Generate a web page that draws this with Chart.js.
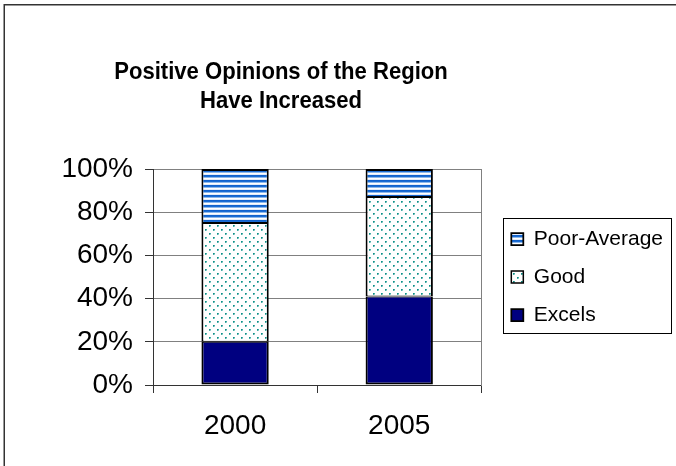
<!DOCTYPE html>
<html>
<head>
<meta charset="utf-8">
<script src="https://cdn.jsdelivr.net/npm/chart.js@4.4.1/dist/chart.umd.min.js"></script>
<style>
  body { margin: 0; background: #fff; }
  #wrap { width: 676px; height: 466px; }
</style>
</head>
<body>
<div id="wrap"><canvas id="canvas" width="676" height="466"></canvas></div>
<script>
var years = ['2000', '2005'];
var excels = [20, 41];
var good = [55, 46];
var poorAverage = [25, 13];
var yTicks = [0, 20, 40, 60, 80, 100];
var titleLines = ['Positive Opinions of the Region', 'Have Increased'];

// horizontal blue stripes
function stripePattern(ctx) {
    var c = document.createElement('canvas');
    c.width = 4; c.height = 5;
    var p = c.getContext('2d');
    var rows = ['#1262cc', '#1a6cd3', '#8db8ec', '#ffffff', '#e2ecfa'];
    for (var i = 0; i < rows.length; i++) {
        p.fillStyle = rows[i];
        p.fillRect(0, i, 4, 1);
    }
    return ctx.createPattern(c, 'repeat');
}

// teal dots on white
function dotPattern(ctx) {
    var c = document.createElement('canvas');
    c.width = 8; c.height = 8;
    var p = c.getContext('2d');
    p.fillStyle = '#ffffff';
    p.fillRect(0, 0, 8, 8);
    [[1, 1], [5, 5]].forEach(function (d) {
        p.fillStyle = '#128d86'; p.fillRect(d[0], d[1], 1, 1);
        p.fillStyle = '#45aca6'; p.fillRect(d[0] + 1, d[1], 1, 1); p.fillRect(d[0], d[1] + 1, 1, 1);
        p.fillStyle = '#95d1cd'; p.fillRect(d[0] + 1, d[1] + 1, 1, 1);
    });
    return ctx.createPattern(c, 'repeat');
}

var ctx = document.getElementById('canvas').getContext('2d');

var framePlugin = {
    id: 'frame',
    beforeDraw: function (chart) {
        var c = chart.ctx;
        c.save();
        c.fillStyle = '#fff';
        c.fillRect(0, 0, chart.width, chart.height);
        c.strokeStyle = '#333';
        c.lineWidth = 1.5;
        c.strokeRect(4.25, 4.75, chart.width + 20, chart.height + 20);
        c.restore();
    },
    afterDraw: function (chart) {
        var c = chart.ctx;
        c.save();
        // title, slightly condensed like the original
        c.fillStyle = '#000';
        c.font = 'bold 24px "Liberation Sans", Arial, sans-serif';
        c.textAlign = 'center';
        c.textBaseline = 'alphabetic';
        c.translate(281, 0);
        c.scale(0.92, 1);
        c.fillText(titleLines[0], 0, 79);
        c.fillText(titleLines[1], 0, 108);
        c.setTransform(1, 0, 0, 1, 0, 0);
        // legend border
        var lg = chart.legend;
        if (lg && lg.legendHitBoxes.length) {
            var hb = lg.legendHitBoxes;
            var top = hb[0].top - 10.5;
            var bottom = hb[hb.length - 1].top + hb[hb.length - 1].height + 7.5;
            c.strokeStyle = '#000';
            c.lineWidth = 1;
            c.strokeRect(Math.round(lg.left + 9) + 0.5, Math.round(top) + 0.5,
                Math.round(lg.right - lg.left - 11), Math.round(bottom - top));
        }
        c.restore();
    }
};

var data = {
    labels: years,
    datasets: [
        {
            label: 'Excels',
            data: excels,
            backgroundColor: '#000080',
            borderColor: '#000',
            borderWidth: { top: 1, left: 2, right: 2, bottom: 2 },
            borderSkipped: false
        },
        {
            label: 'Good',
            data: good,
            backgroundColor: dotPattern(ctx),
            borderColor: '#000',
            borderWidth: { top: 1, left: 2, right: 2, bottom: 1 },
            borderSkipped: false
        },
        {
            label: 'Poor-Average',
            data: poorAverage,
            backgroundColor: stripePattern(ctx),
            borderColor: '#000',
            borderWidth: { top: 2, left: 2, right: 2, bottom: 1 },
            borderSkipped: false
        }
    ]
};

var chart = new Chart(ctx, {
    type: 'bar',
    data: data,
    plugins: [framePlugin],
    options: {
        responsive: false,
        animation: false,
        layout: { padding: { top: 169, left: 0, right: 3, bottom: 0 } },
        datasets: { bar: { categoryPercentage: 1, barPercentage: 0.41 } },
        plugins: {
            title: { display: false },
            tooltip: { enabled: false },
            legend: {
                position: 'right',
                fullSize: false,
                reverse: true,
                maxWidth: 180,
                labels: {
                    color: '#000',
                    font: { family: '"Liberation Sans", Arial, sans-serif', size: 21 },
                    boxWidth: 12,
                    boxHeight: 12,
                    padding: 17
                }
            }
        },
        scales: {
            x: {
                stacked: true,
                grid: { drawOnChartArea: false, drawTicks: true, tickLength: 8, color: '#333' },
                border: { color: '#333', width: 1 },
                ticks: {
                    color: '#000',
                    padding: 16,
                    maxRotation: 0,
                    font: { family: '"Liberation Sans", Arial, sans-serif', size: 28 }
                },
                afterFit: function (s) { s.height = 81; }
            },
            y: {
                stacked: true,
                min: 0,
                max: 100,
                afterBuildTicks: function (s) {
                    s.ticks = yTicks.map(function (v) { return { value: v }; });
                },
                grid: { color: '#808080', tickColor: '#333', tickLength: 8 },
                border: { color: '#333', width: 1 },
                ticks: {
                    color: '#000',
                    padding: 12,
                    font: { family: '"Liberation Sans", Arial, sans-serif', size: 28 },
                    callback: function (v) { return v + '%'; }
                },
                afterFit: function (s) { s.width = 153; }
            },
            yr: {
                position: 'right',
                display: true,
                grid: { display: false, drawOnChartArea: false, drawTicks: false },
                border: { display: true, color: '#808080', width: 1 },
                ticks: { display: false },
                afterFit: function (s) { s.width = 13; }
            }
        }
    }
});
</script>
</body>
</html>
